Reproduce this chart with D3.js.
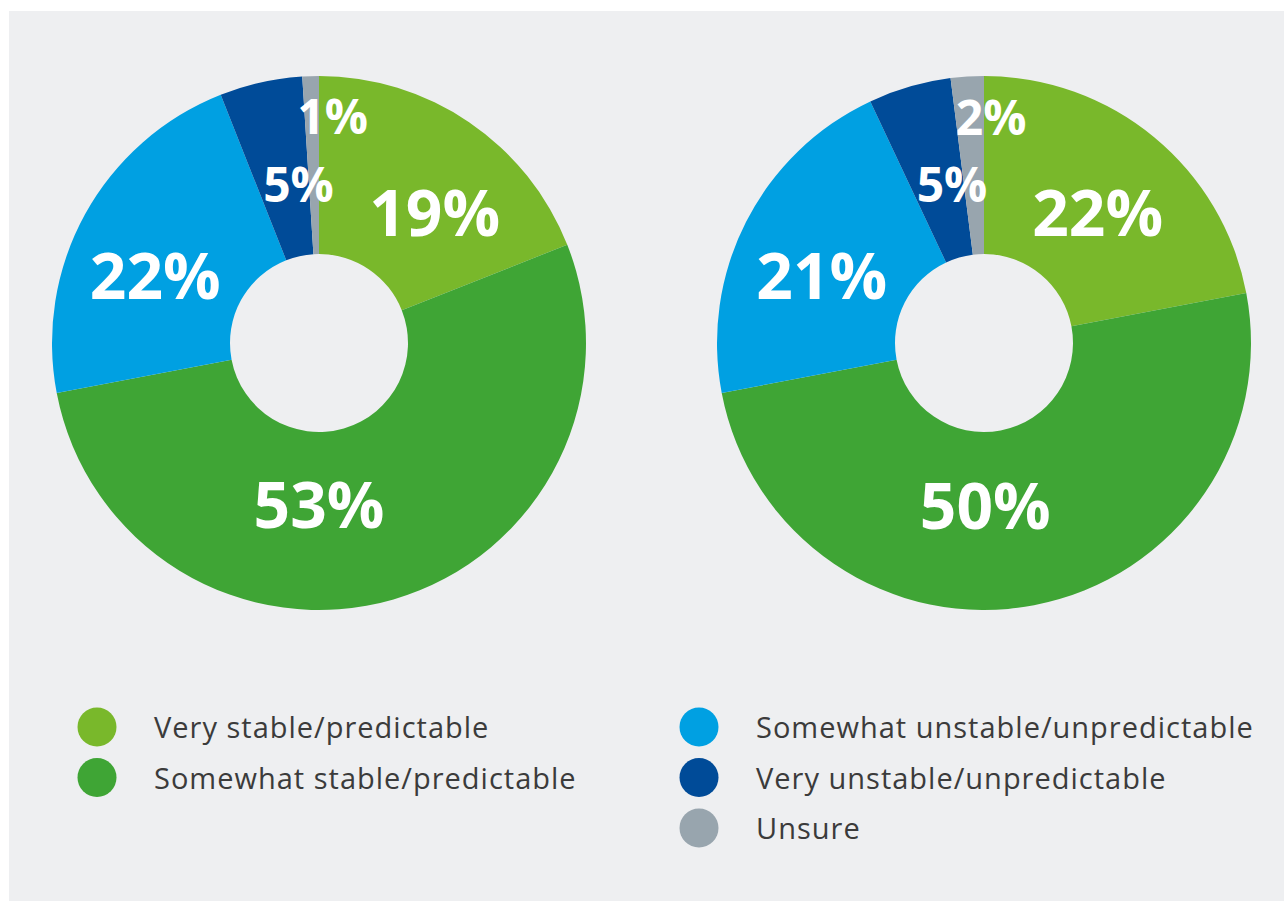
<!DOCTYPE html>
<html>
<head>
<meta charset="utf-8">
<script src="https://cdn.jsdelivr.net/npm/d3@7"></script>
<style>
  body { margin: 0; background: #fff; }
  svg { display: block; }
</style>
</head>
<body>
<div id="chart"></div>
<script>
// answer categories, in drawing order (clockwise from 12 o'clock)
var categories = ["Very stable/predictable", "Somewhat stable/predictable",
  "Somewhat unstable/unpredictable", "Very unstable/unpredictable", "Unsure"];
var colors = ["#79b82b", "#3fa535", "#00a0e2", "#004b98", "#98a5ae"];

// left donut and right donut values (%)
var leftValues = [19, 53, 22, 5, 1];
var rightValues = [22, 50, 21, 5, 2];

// legend split in two columns
var legendLeft = [0, 1];
var legendRight = [2, 3, 4];

var W = 1285, H = 901;
var outerR = 267, innerR = 89, labelR = 172;

var svg = d3.select("#chart").append("svg")
  .attr("width", W)
  .attr("height", H);

// grey panel
svg.append("rect")
  .attr("x", 9).attr("y", 11)
  .attr("width", 1275).attr("height", 890)
  .attr("fill", "#eeeff1");

var pie = d3.pie().sort(null).value(function(d) { return d; });
var arc = d3.arc().innerRadius(innerR).outerRadius(outerR);
var labelArc = d3.arc().innerRadius(labelR).outerRadius(labelR);

// hand nudges so labels sit where the original puts them
var leftNudge = [[19, 12], [-48, -3], [-13, 16], [17, 10], [19, -54]];
var rightNudge = [[4, 2], [-31, -6], [-9, 11], [16, 7], [18, -54]];

function drawDonut(values, cx, cy, nudge) {
  var g = svg.append("g")
    .attr("transform", "translate(" + cx + "," + cy + ")");
  var arcs = pie(values);

  g.selectAll("path")
    .data(arcs)
    .enter()
    .append("path")
    .attr("d", arc)
    .attr("fill", function(d, i) { return colors[i]; });

  g.selectAll("text")
    .data(arcs)
    .enter()
    .append("text")
    .attr("x", function(d, i) { return labelArc.centroid(d)[0] + nudge[i][0]; })
    .attr("y", function(d, i) { return labelArc.centroid(d)[1] + nudge[i][1]; })
    .attr("dy", "0.36em")
    .attr("text-anchor", "middle")
    .attr("fill", "#fff")
    .style("font-family", "'Open Sans', sans-serif")
    .style("font-weight", 700)
    .style("font-size", function(d) { return d.data < 10 ? "48px" : "64px"; })
    .text(function(d) { return d.data + "%"; });
}

drawDonut(leftValues, 319, 343, leftNudge);
drawDonut(rightValues, 984, 343, rightNudge);

// legend
var rowY = d3.scalePoint().domain([0, 1, 2]).range([727, 828]);

function drawLegend(idx, x) {
  var items = svg.append("g").selectAll("g")
    .data(idx)
    .enter()
    .append("g")
    .attr("transform", function(d, i) { return "translate(" + x + "," + rowY(i) + ")"; });
  items.append("circle")
    .attr("r", 19.5)
    .attr("fill", function(d) { return colors[d]; });
  items.append("text")
    .attr("x", 57)
    .attr("y", 11)
    .attr("fill", "#3b3b3b")
    .style("font-family", "'Open Sans', sans-serif")
    .style("font-size", "29px")
    .style("letter-spacing", "1px")
    .text(function(d) { return categories[d]; });
}

drawLegend(legendLeft, 97);
drawLegend(legendRight, 699);
</script>
</body>
</html>
